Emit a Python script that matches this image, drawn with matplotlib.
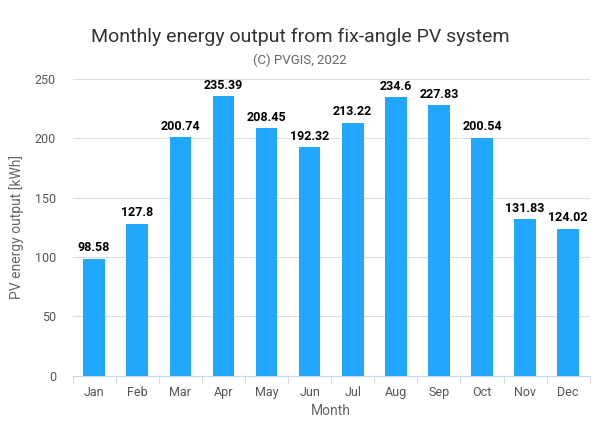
import matplotlib
matplotlib.use("Agg")
import matplotlib.pyplot as plt

plt.rcParams['font.family'] = ['Roboto', 'DejaVu Sans']

months = ['Jan', 'Feb', 'Mar', 'Apr', 'May', 'Jun', 'Jul', 'Aug', 'Sep', 'Oct', 'Nov', 'Dec']
energy = [98.58, 127.8, 200.74, 235.39, 208.45, 192.32, 213.22, 234.6, 227.83, 200.54, 131.83, 124.02]
labels = ['98.58', '127.8', '200.74', '235.39', '208.45', '192.32', '213.22', '234.6', '227.83', '200.54', '131.83', '124.02']

fig = plt.figure(figsize=(6, 4.34), dpi=100)
ax = fig.add_axes([0.121, 0.134, 0.862, 0.684])

x = list(range(len(months)))
ax.bar(x, energy, width=0.5, color='#22a7fe', zorder=3)
for xi, v, lab in zip(x, energy, labels):
    ax.text(xi, v + 4, lab, ha='center', va='bottom', fontsize=9, fontweight='bold', color='black')

ax.set_xlim(-0.5, 11.5)
ax.set_ylim(0, 250)
ax.set_yticks([0, 50, 100, 150, 200, 250])
ax.set_xticks(x)
ax.set_xticklabels(months)
ax.set_xticks([i - 0.5 for i in range(13)], minor=True)
ax.tick_params(axis='x', which='major', length=0, pad=7, labelsize=9, labelcolor='#555555')
ax.tick_params(axis='x', which='minor', length=6, color='#c8d6e2')
ax.tick_params(axis='y', length=0, pad=12, labelsize=9, labelcolor='#555555')
ax.grid(axis='y', color='#dddddd', linewidth=0.8, zorder=0)

for s in ['top', 'right', 'left']:
    ax.spines[s].set_visible(False)
ax.spines['bottom'].set_color('#c8d6e2')

ax.set_xlabel('Month', fontsize=10, color='#666666', labelpad=4)
ax.set_ylabel('PV energy output [kWh]', fontsize=10, color='#666666', labelpad=8)

fig.text(0.5, 0.915, 'Monthly energy output from fix-angle PV system', ha='center', va='center',
         fontsize=14, color='#333333')
fig.text(0.5, 0.862, '(C) PVGIS, 2022', ha='center', va='center', fontsize=9.5, color='#666666')

fig.savefig('out.png', dpi=100)
